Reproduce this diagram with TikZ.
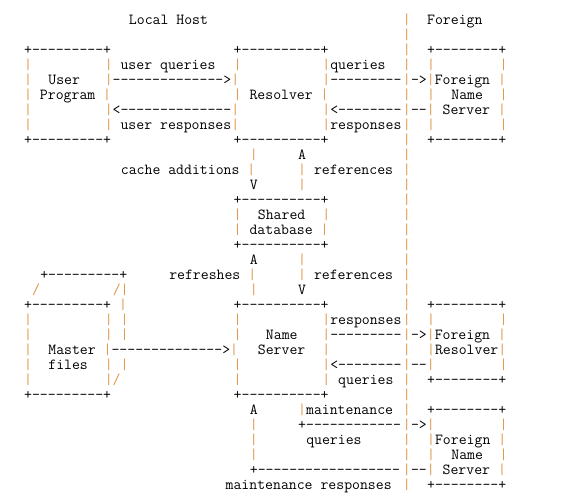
\documentclass[tikz,border=0pt]{standalone}
\usepackage{xcolor}
\definecolor{barorange}{RGB}{222,148,70}
\tikzset{seg/.style={font=\ttfamily\fontsize{15.35}{15}\selectfont,
  inner sep=0pt,anchor=base west,text=black}}
\newcommand\slsh{\textcolor{barorange}{/}}
% bars of the ascii art are drawn in orange
\catcode`\|=\active
\def|{\textcolor{barorange}{\textbar}}

\begin{document}
\begin{tikzpicture}[x=8.06pt,y=-15pt]
% one unit = one text column / one text row
\useasboundingbox (8.27pt,24.5pt) rectangle (578.27pt,-473.5pt);
% ---- local / foreign boundary ----
\foreach \r in {0,...,31}
  \node[seg] (b\r) at (51,\r) {|};
% ---- user program, resolver, foreign name server ----
\foreach \r/\c/\txt in {0/17/{Local Host},0/54/{Foreign},
  2/4/{+---------+},2/30/{+----------+},2/54/{+--------+},
  3/4/{|},3/14/{| user queries},3/30/{|},3/41/{|queries},3/54/{|},3/63/{|},
  4/4/{|},4/7/{User},4/14/{|-------------->|},4/41/{|---------},4/52/{->|Foreign |},
  5/4/{| Program |},5/30/{| Resolver |},5/54/{|},5/57/{Name},5/63/{|},
  6/4/{|},6/14/{|<--------------|},6/41/{|<--------},6/52/{--| Server |},
  7/4/{|},7/14/{| user responses|},7/41/{|responses},7/54/{|},7/63/{|},
  8/4/{+---------+},8/30/{+----------+},8/54/{+--------+}}
  \node[seg] (s\r-\c) at (\c,\r) {\txt};
% ---- shared database ----
\foreach \r/\c/\txt in {9/32/{|},9/38/{A},
  10/16/{cache additions |},10/38/{| references},
  11/32/{V},11/38/{|},
  12/30/{+----------+},13/30/{|},13/33/{Shared},13/41/{|},
  14/30/{| database |},15/30/{+----------+},
  16/32/{A},16/38/{|},
  17/22/{refreshes |},17/38/{| references},
  18/32/{|},18/38/{V}}
  \node[seg] (s\r-\c) at (\c,\r) {\txt};
% ---- master files, name server, foreign resolver ----
\foreach \r/\c/\txt in {17/6/{+---------+},
  18/5/{\slsh},18/15/{\slsh|},
  19/4/{+---------+ |},19/30/{+----------+},19/54/{+--------+},
  20/4/{|},20/14/{| |},20/30/{|},20/41/{|responses},20/54/{|},20/63/{|},
  21/4/{|},21/14/{| |},21/30/{|},21/34/{Name},21/41/{|---------},21/52/{->|Foreign |},
  22/4/{|},22/7/{Master |-------------->|},22/33/{Server},22/41/{|},22/54/{|Resolver|},
  23/4/{|},23/7/{files},23/14/{| |},23/30/{|},23/41/{|<--------},23/52/{--|},23/63/{|},
  24/4/{|},24/14/{|\slsh},24/30/{|},24/41/{| queries},24/54/{+--------+},
  25/4/{+---------+},25/30/{+----------+}}
  \node[seg] (s\r-\c) at (\c,\r) {\txt};
% ---- maintenance to foreign name server ----
\foreach \r/\c/\txt in {26/32/{A},26/38/{|maintenance},26/54/{+--------+},
  27/32/{|},27/38/{+------------},27/52/{->|},27/63/{|},
  28/32/{|},28/39/{queries},28/54/{|Foreign |},
  29/32/{|},29/54/{|},29/57/{Name},29/63/{|},
  30/32/{+------------------},30/52/{--| Server |},
  31/29/{maintenance responses},31/54/{+--------+}}
  \node[seg] (s\r-\c) at (\c,\r) {\txt};
\end{tikzpicture}
\end{document}
